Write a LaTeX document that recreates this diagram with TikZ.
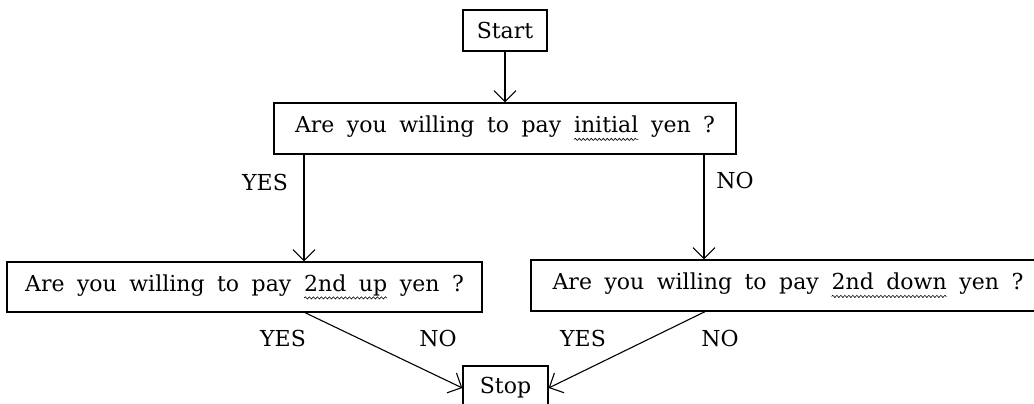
\documentclass[tikz,border=0pt]{standalone}
\usepackage{fontspec}
\setmainfont{DejaVu Serif}
\usetikzlibrary{arrows.meta,decorations.pathmorphing}
\newcommand\txtfont{\fontsize{22}{26}\selectfont\spaceskip=12.5pt\relax}
\newcommand\wavyword[2]{\tikz[baseline=(#1.base)]{\node[draw=none,inner sep=0pt,outer sep=0pt,minimum width=0pt,minimum height=0pt,text width={},align=none,anchor=base,font=\txtfont] (#1) at (0,0) {#2};
  \draw[line width=0.6pt,decorate,decoration={snake,amplitude=1.1pt,segment length=4pt}] ([yshift=-6.5pt]#1.base west) -- ([yshift=-6.5pt]#1.base east);}}
\begin{document}
\begin{tikzpicture}[x=1pt,y=-1pt,
  box/.style={draw,line width=1.3pt,inner sep=0pt,font=\txtfont},
  lbl/.style={font=\txtfont,inner sep=0pt},
  arr/.style={line width=1.1pt,-{Straight Barb[length=11pt,width=22pt,line width=1.1pt]}}]
\useasboundingbox (0,0) rectangle (1034,404);
\clip (0,0) rectangle (1034,404);
\fill[white] (0,0) rectangle (1034,404);
\node[box,minimum width=84pt,minimum height=41pt] (start) at (505,30.5) {Start};
\node[box,minimum width=462pt,minimum height=51pt] (q1) at (505,128.5) {Are you willing to pay \wavyword{wa}{initial} yen ?};
\node[box,minimum width=475pt,minimum height=50pt] (q2) at (244.5,287) {Are you willing to pay \wavyword{wb}{2nd up} yen ?};
\node[box,minimum width=514pt,minimum height=51pt] (q3) at (788,285.5) {Are you willing to pay \wavyword{wc}{2nd down} yen ?};
\node[box,minimum width=85pt,minimum height=44pt] (stop) at (505.5,388) {Stop};
\coordinate (xa) at (304,0);
\coordinate (xb) at (704,0);
\coordinate (xc) at (305,0);
\coordinate (xd) at (705,0);
\draw[arr] (start.south) -- (q1.north);
\draw[arr] (q1.south -| xa) -- (q2.north -| xa);
\draw[arr] (q1.south -| xb) -- (q3.north -| xb);
\draw[arr] (q2.south -| xc) -- (stop.west);
\draw[arr] (q3.south -| xd) -- (stop.east);
\node[lbl] (y1) at (265,182) {YES};
\node[lbl] (n1) at (735,180) {NO};
\node[lbl] (y2) at (283,338) {YES};
\node[lbl] (n2) at (438,338) {NO};
\node[lbl] (y3) at (583,338) {YES};
\node[lbl] (n3) at (720,338) {NO};
\end{tikzpicture}
\end{document}
